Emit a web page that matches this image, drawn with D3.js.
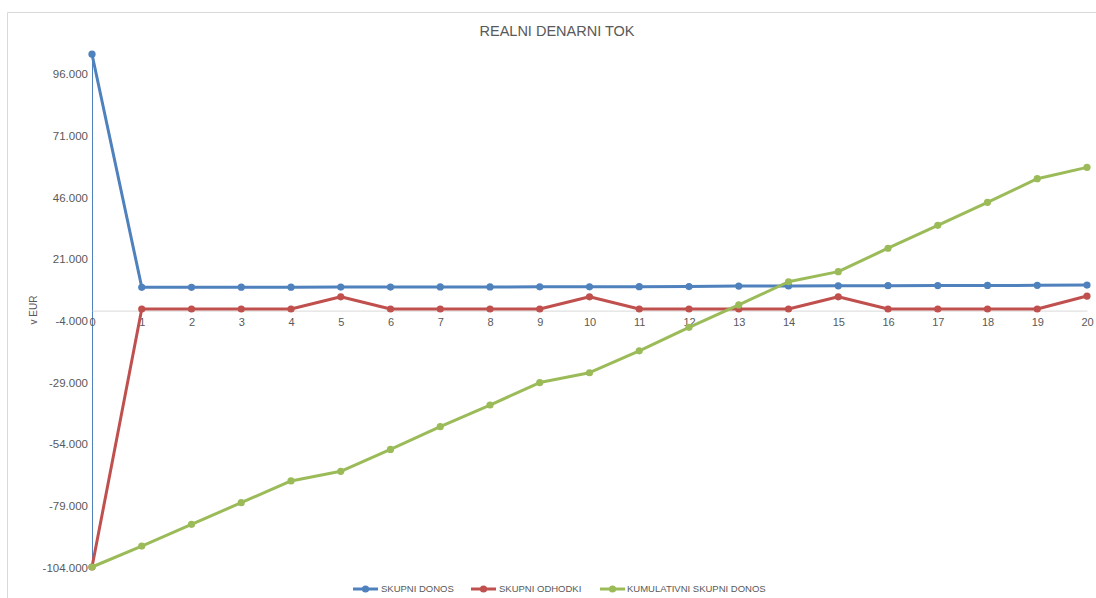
<!DOCTYPE html>
<html>
<head>
<meta charset="utf-8">
<script src="https://cdn.jsdelivr.net/npm/d3@7"></script>
<style>
  html, body { margin: 0; padding: 0; background: #fff; }
  svg { display: block; font-family: "Liberation Sans", "Open Sans", Arial, sans-serif; }
</style>
</head>
<body>
<svg id="chart" width="1096" height="598"></svg>
<script>
// Years of the projection
const years = [0, 1, 2, 3, 4, 5, 6, 7, 8, 9, 10, 11, 12, 13, 14, 15, 16, 17, 18, 19, 20];

// Total return per year (EUR)
const skupniDonos = [104000, 9450, 9450, 9500, 9500, 9550, 9550, 9600, 9600, 9650, 9650,
                     9700, 9750, 9950, 10000, 10050, 10100, 10150, 10200, 10250, 10350];

// Total expenses per year (EUR)
const skupniOdhodki = [-104000, 650, 650, 650, 650, 5600, 650, 650, 650, 650, 5600,
                       650, 650, 650, 650, 5600, 650, 650, 650, 650, 5900];

// Cumulative total return (EUR)
const kumulativniDonos = [-104000, -95500, -86700, -77900, -69100, -65200, -56300, -47100,
                          -38300, -29200, -25200, -16300, -6800, 2300, 11700, 15800,
                          25300, 34600, 43900, 53500, 58100];

// Value axis ticks
const yTicks = [-104000, -79000, -54000, -29000, -4000, 21000, 46000, 71000, 96000];

const seriesNames = ["SKUPNI DONOS", "SKUPNI ODHODKI", "KUMULATIVNI SKUPNI DONOS"];
const seriesColors = ["#4f81bd", "#c0504d", "#9bbb59"];
const seriesValues = [skupniDonos, skupniOdhodki, kumulativniDonos];

const svg = d3.select("#chart");
const textColor = "#595959";

const fmt = d3.formatLocale({
  decimal: ",", thousands: ".", grouping: [3], currency: ["", " €"], minus: "-"
}).format(",.0f");

// Chart frame
svg.append("path")
  .attr("d", "M7.5,598 V12.5 H1096")
  .attr("fill", "none")
  .attr("stroke", "#d9d9d9")
  .attr("stroke-width", 1);

const x = d3.scaleLinear().domain([0, 20]).range([92, 1087]);
const y = d3.scaleLinear().domain([-104000, 104000]).range([567, 54.2]);

// Title
svg.append("text")
  .attr("x", 557).attr("y", 36)
  .attr("text-anchor", "middle")
  .attr("font-size", 14.5)
  .attr("fill", textColor)
  .text("REALNI DENARNI TOK");

// Value axis labels
const yAxis = d3.axisLeft(y).tickValues(yTicks).tickFormat(fmt).tickSize(0).tickPadding(4);
const gy = svg.append("g").attr("transform", `translate(${x(0)},0)`).call(yAxis);
gy.select(".domain").attr("stroke", "#4f81bd").attr("stroke-width", 1);
gy.selectAll("text").attr("font-size", 11.5).attr("fill", textColor)
  .attr("font-family", "Liberation Sans, Arial, sans-serif");
gy.selectAll(".tick text").attr("dy", "0.35em");
// shift labels to the left edge used by the category labels' plot offset
gy.selectAll(".tick text").attr("x", -4);

// Value axis title
svg.append("text")
  .attr("transform", `translate(37,310) rotate(-90)`)
  .attr("text-anchor", "middle")
  .attr("font-size", 10)
  .attr("fill", textColor)
  .text("v EUR");

// Category axis along zero
const xAxis = d3.axisBottom(x).tickValues(years).tickFormat(d3.format("d")).tickSize(0).tickPadding(8);
const gx = svg.append("g").attr("transform", `translate(0,${y(0)})`).call(xAxis);
gx.select(".domain").attr("stroke", "#d9d9d9").attr("stroke-width", 1);
gx.selectAll("text").attr("font-size", 11).attr("fill", textColor);

// Series lines and markers
const line = d3.line().x((d, i) => x(years[i])).y(d => y(d));
seriesValues.forEach((vals, s) => {
  const g = svg.append("g");
  g.append("path")
    .datum(vals)
    .attr("d", line)
    .attr("fill", "none")
    .attr("stroke", seriesColors[s])
    .attr("stroke-width", 3)
    .attr("stroke-linejoin", "round")
    .attr("stroke-linecap", "round");
  g.selectAll("circle")
    .data(vals)
    .join("circle")
    .attr("cx", (d, i) => x(years[i]))
    .attr("cy", d => y(d))
    .attr("r", 3.6)
    .attr("fill", seriesColors[s]);
});

// Legend
const legendItems = [
  { x0: 353, tx: 381 },
  { x0: 471, tx: 499 },
  { x0: 600, tx: 627 }
];
legendItems.forEach((it, s) => {
  const g = svg.append("g");
  g.append("line")
    .attr("x1", it.x0).attr("x2", it.x0 + 25)
    .attr("y1", 589).attr("y2", 589)
    .attr("stroke", seriesColors[s]).attr("stroke-width", 3);
  g.append("circle")
    .attr("cx", it.x0 + 12.5).attr("cy", 589).attr("r", 3.6)
    .attr("fill", seriesColors[s]);
  g.append("text")
    .attr("x", it.tx).attr("y", 589).attr("dy", "0.35em")
    .attr("font-size", 9.5)
    .attr("fill", textColor)
    .text(seriesNames[s]);
});
</script>
</body>
</html>
